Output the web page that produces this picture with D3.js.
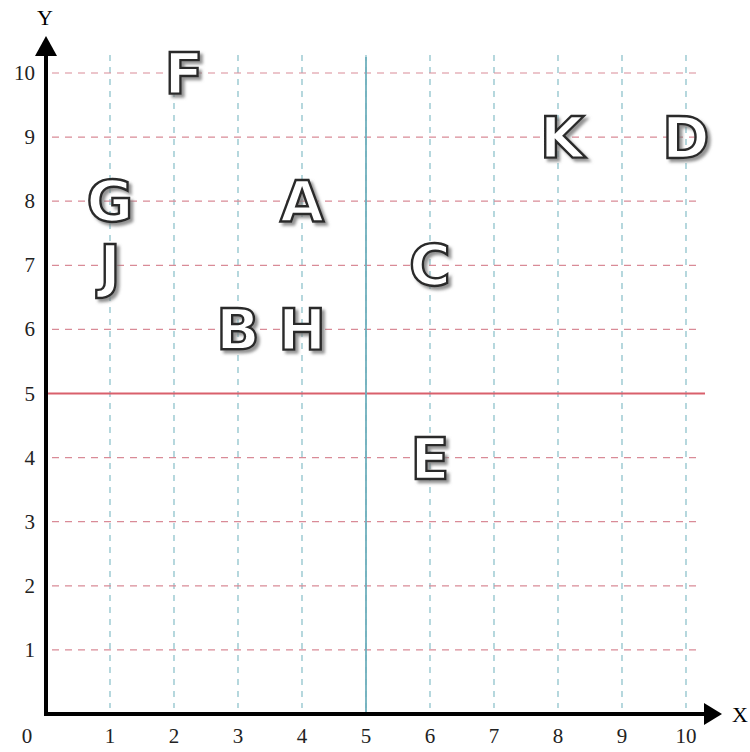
<!DOCTYPE html>
<html>
<head>
<meta charset="utf-8">
<script src="https://cdn.jsdelivr.net/npm/d3@7"></script>
<style>
  body { margin: 0; background: #fff; }
  svg { display: block; }
</style>
</head>
<body>
<svg width="750" height="752"></svg>
<script>
(function () {

  // letters placed on the grid
  var names = ['A', 'B', 'C', 'D', 'E', 'F', 'G', 'H', 'J', 'K']
  var xValues = [4, 3, 6, 10, 6, 2, 1, 4, 1, 8]
  var yValues = [8, 6, 7, 9, 4, 10, 8, 6, 7, 9]

  var ticks = [1, 2, 3, 4, 5, 6, 7, 8, 9, 10]

  var points = names.map(function (n, i) {
    return { name: n, x: xValues[i], y: yValues[i] }
  })

  var svg = d3.select('svg')

  var xScale = d3.scaleLinear().domain([0, 10]).range([46, 686])
  var yScale = d3.scaleLinear().domain([0, 10]).range([714, 73])

  var defs = svg.append('defs')
  var filter = defs.append('filter').attr('id', 'shadow')
    .attr('x', '-20%').attr('y', '-20%').attr('width', '150%').attr('height', '150%')
  filter.append('feDropShadow')
    .attr('dx', 3).attr('dy', 3).attr('stdDeviation', 1.6)
    .attr('flood-color', '#777').attr('flood-opacity', 0.8)

  // dashed grid
  svg.selectAll('.vgrid')
    .data(ticks)
    .enter().append('line')
    .attr('class', 'vgrid')
    .attr('x1', function (d) { return xScale(d) })
    .attr('x2', function (d) { return xScale(d) })
    .attr('y1', 55)
    .attr('y2', 708)
    .attr('stroke', '#8fc3cc')
    .attr('stroke-width', 1.3)
    .attr('stroke-dasharray', '6,6')

  svg.selectAll('.hgrid')
    .data(ticks)
    .enter().append('line')
    .attr('class', 'hgrid')
    .attr('x1', 52)
    .attr('x2', 698)
    .attr('y1', function (d) { return yScale(d) })
    .attr('y2', function (d) { return yScale(d) })
    .attr('stroke', '#d98b97')
    .attr('stroke-width', 1.2)
    .attr('stroke-dasharray', '7,6')

  // the two solid guide lines at 5
  svg.append('line')
    .attr('x1', xScale(0)).attr('x2', 705)
    .attr('y1', yScale(5)).attr('y2', yScale(5))
    .attr('stroke', '#d9606c').attr('stroke-width', 1.8)

  svg.append('line')
    .attr('x1', xScale(5)).attr('x2', xScale(5))
    .attr('y1', 57).attr('y2', yScale(0))
    .attr('stroke', '#6fb0bd').attr('stroke-width', 1.8)

  // axes
  svg.append('line')
    .attr('x1', xScale(0)).attr('x2', 706)
    .attr('y1', yScale(0)).attr('y2', yScale(0))
    .attr('stroke', '#000').attr('stroke-width', 4)

  svg.append('line')
    .attr('x1', xScale(0)).attr('x2', xScale(0))
    .attr('y1', yScale(0) + 2).attr('y2', 52)
    .attr('stroke', '#000').attr('stroke-width', 4)

  svg.append('path')
    .attr('d', 'M704,703 L722,714 L704,725 Z')
    .attr('fill', '#000')

  svg.append('path')
    .attr('d', 'M35,56 L46,36 L57,56 Z')
    .attr('fill', '#000')

  svg.append('text')
    .attr('x', 740).attr('y', 722)
    .attr('text-anchor', 'middle')
    .attr('font-family', 'Liberation Serif, serif')
    .attr('font-size', 22)
    .text('X')

  svg.append('text')
    .attr('x', 45).attr('y', 25)
    .attr('text-anchor', 'middle')
    .attr('font-family', 'Liberation Serif, serif')
    .attr('font-size', 22)
    .text('Y')

  // tick labels
  svg.selectAll('.xlabel')
    .data(ticks)
    .enter().append('text')
    .attr('class', 'xlabel')
    .attr('x', function (d) { return xScale(d) })
    .attr('y', 743)
    .attr('text-anchor', 'middle')
    .attr('font-family', 'Liberation Serif, serif')
    .attr('font-size', 21)
    .attr('fill', '#222')
    .text(function (d) { return d })

  svg.selectAll('.ylabel')
    .data(ticks)
    .enter().append('text')
    .attr('class', 'ylabel')
    .attr('x', 35)
    .attr('y', function (d) { return yScale(d) + 7 })
    .attr('text-anchor', 'end')
    .attr('font-family', 'Liberation Serif, serif')
    .attr('font-size', 21)
    .attr('fill', '#222')
    .text(function (d) { return d })

  svg.append('text')
    .attr('x', 27).attr('y', 743)
    .attr('text-anchor', 'middle')
    .attr('font-family', 'Liberation Serif, serif')
    .attr('font-size', 21)
    .attr('fill', '#222')
    .text('0')

  // outlined letters
  svg.selectAll('.letter')
    .data(points)
    .enter().append('text')
    .attr('class', 'letter')
    .attr('x', function (d) { return xScale(d.x) + (d.name === 'F' ? 10 : d.name === 'K' ? 4 : 0) })
    .attr('y', function (d) { return yScale(d.y) + 21 })
    .attr('text-anchor', 'middle')
    .attr('font-family', 'DejaVu Sans, sans-serif')
    .attr('font-weight', 'bold')
    .attr('font-size', 57)
    .attr('fill', '#fff')
    .attr('stroke', '#2a2a2a')
    .attr('stroke-width', 2.4)
    .attr('filter', 'url(#shadow)')
    .text(function (d) { return d.name })

})()
</script>
</body>
</html>
